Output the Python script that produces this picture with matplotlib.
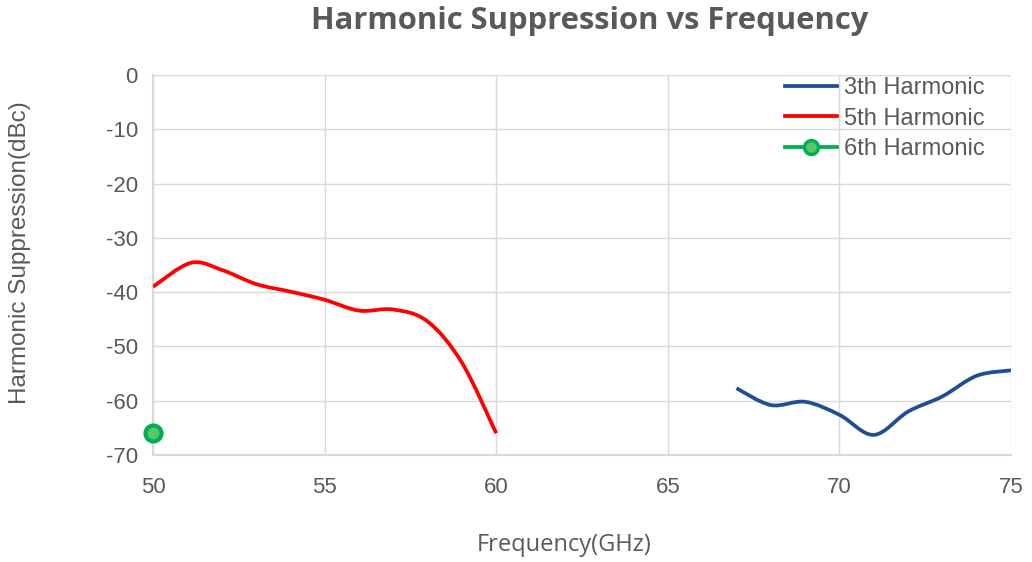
import numpy as np
import matplotlib
matplotlib.use('Agg')
import matplotlib.pyplot as plt
from matplotlib.path import Path
from matplotlib.patches import PathPatch
from matplotlib.lines import Line2D

plt.rcParams['axes.unicode_minus'] = False

# data
f3 = [67, 68, 69, 70, 71, 72, 73, 74, 75]
h3 = [-57.7, -60.8, -60.2, -62.6, -66.3, -62.0, -59.2, -55.4, -54.4]
f5 = [50, 51.1, 52, 53, 54, 55, 56, 57, 58, 59, 60]
h5 = [-39.0, -34.6, -35.9, -38.5, -39.9, -41.4, -43.4, -43.2, -45.4, -53.0, -66.0]
f6 = [50]
h6 = [-66.0]

c3 = '#1f4e96'
c5 = '#ff0000'
c6 = '#00b050'
gray = '#595959'


def smooth_path(x, y):
    # excel-like smoothed line: catmull-rom segments as cubic bezier
    p = np.column_stack([x, y]).astype(float)
    verts = [p[0]]
    codes = [Path.MOVETO]
    n = len(p)
    for i in range(n - 1):
        p0 = p[i - 1] if i > 0 else p[i]
        p1, p2 = p[i], p[i + 1]
        p3 = p[i + 2] if i + 2 < n else p[i + 1]
        verts += [p1 + (p2 - p0) / 6, p2 - (p3 - p1) / 6, p2]
        codes += [Path.CURVE4] * 3
    return Path(verts, codes)


fig = plt.figure(figsize=(10.32, 5.62), dpi=100)
ax = fig.add_axes([0.1483, 0.1904, 0.8314, 0.6761])

for x, y, c in [(f3, h3, c3), (f5, h5, c5)]:
    ax.add_patch(PathPatch(smooth_path(x, y), facecolor='none', edgecolor=c,
                           lw=2.7, capstyle='butt', zorder=3))
ax.plot(f6, h6, 'o', color=c6, ms=11.5, mfc='#5cc46a', mec=c6, mew=3, zorder=4, clip_on=False)

ax.set_xlim(50, 75)
ax.set_ylim(-70, 0)
ax.set_xticks(np.arange(50, 76, 5))
ax.set_yticks(np.arange(-70, 1, 10))
ax.grid(True, color='#d9d9d9', lw=1)
ax.set_axisbelow(True)
for s in ['top', 'right']:
    ax.spines[s].set_visible(False)
for s in ['left', 'bottom']:
    ax.spines[s].set_color('#d9d9d9')
    ax.spines[s].set_linewidth(1.5)
ax.tick_params(length=0, labelsize=16, colors=gray)
ax.tick_params(axis='y', pad=11)
ax.tick_params(axis='x', pad=15.5)
for lab in ax.get_xticklabels() + ax.get_yticklabels():
    lab.set_family('Liberation Sans')

fig.text(0.5470, 1 - 545 / 562, 'Frequency(GHz)', fontsize=17, color=gray,
         family='Open Sans', ha='center', va='center')
fig.text(20 / 1032, 1 - 253 / 562, 'Harmonic Suppression(dBc)', fontsize=17.5, color=gray,
         family='Liberation Sans', ha='center', va='center', rotation=90)
fig.text(0.571, 1 - 21 / 562, 'Harmonic Suppression vs Frequency', fontsize=22.3,
         fontweight='bold', color=gray, family='Open Sans', ha='center', va='center')

handles = [Line2D([], [], color=c3, lw=2.7),
           Line2D([], [], color=c5, lw=2.7),
           Line2D([], [], color=c6, lw=2.7, marker='o', ms=10, mfc='#5cc46a', mec=c6, mew=2.5)]
leg = fig.legend(handles, ['3th Harmonic', '5th Harmonic', '6th Harmonic'],
                 loc='upper left', bbox_to_anchor=(785 / 1032, 1 - 77 / 562), frameon=False,
                 prop={'family': 'Liberation Sans', 'size': 17}, handlelength=2.2,
                 handletextpad=0.3, labelspacing=0.36, borderpad=0, borderaxespad=0)
for t in leg.get_texts():
    t.set_color(gray)

fig.savefig('out.png', dpi=100)
